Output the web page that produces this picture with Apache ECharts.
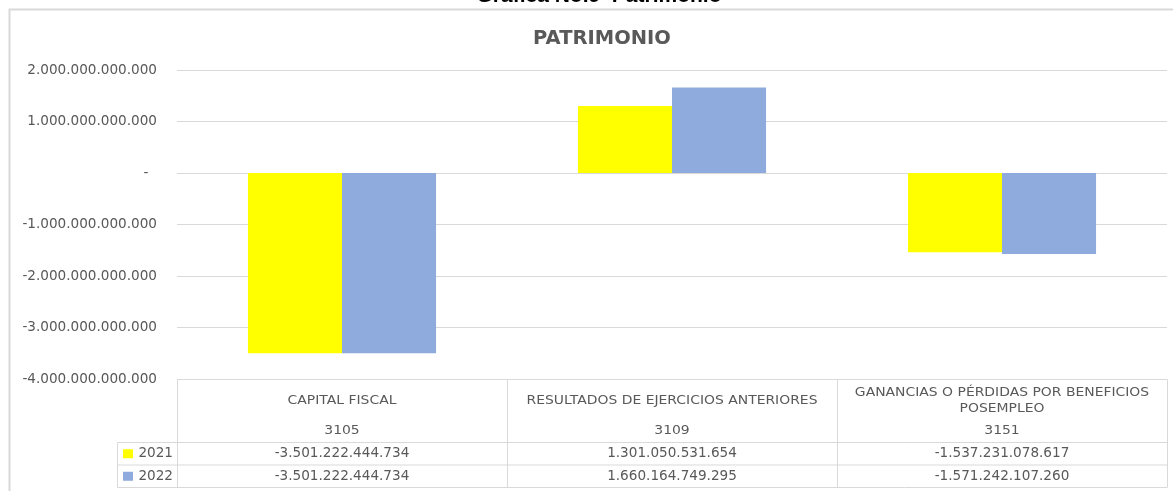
<!DOCTYPE html>
<html><head><meta charset="utf-8">
<script src="https://cdn.jsdelivr.net/npm/echarts@6/dist/echarts.min.js"></script>
<style>html,body{margin:0;padding:0;background:#fff;}#c{width:1173px;height:491px;}</style>
</head><body><div id="c"></div>
<script>
const categories = ['CAPITAL FISCAL', 'RESULTADOS DE EJERCICIOS ANTERIORES', 'GANANCIAS O PÉRDIDAS POR BENEFICIOS\nPOSEMPLEO'];
const codes = ['3105', '3109', '3151'];
const seriesNames = ['2021', '2022'];
const values2021 = [-3501222444734, 1301050531654, -1537231078617];
const values2022 = [-3501222444734, 1660164749295, -1571242107260];
const yTicks = { min: -4000000000000, max: 2000000000000, interval: 1000000000000 };

const colors = ['#FFFF00', '#8FAADC'];
const textColor = '#595959';
const lineColor = '#d9d9d9';
const font = '"DejaVu Sans", Verdana, sans-serif';

function fmt(v) {
  if (v === 0) return '-  ';
  const s = Math.abs(Math.round(v)).toString().replace(/\B(?=(\d{3})+(?!\d))/g, '.');
  return (v < 0 ? '-' : '') + s;
}

const chart = echarts.init(document.getElementById('c'));
const option = {
  animation: false,
  backgroundColor: '#fff',
  grid: { left: 177, right: 6, top: 70, bottom: 112, containLabel: false },
  xAxis: {
    type: 'category', data: categories,
    axisLine: { show: false }, axisTick: { show: false }, axisLabel: { show: false }
  },
  yAxis: {
    type: 'value', min: yTicks.min, max: yTicks.max, interval: yTicks.interval,
    axisLine: { show: false }, axisTick: { show: false },
    splitLine: { lineStyle: { color: lineColor, width: 1 } },
    axisLabel: { formatter: fmt, color: textColor, fontSize: 13.6, fontFamily: font, margin: 20 }
  },
  series: [
    { name: seriesNames[0], type: 'bar', data: values2021, barGap: '0%', barCategoryGap: '43%', itemStyle: { color: colors[0] } },
    { name: seriesNames[1], type: 'bar', data: values2022, barGap: '0%', barCategoryGap: '43%', itemStyle: { color: colors[1] } }
  ]
};
chart.setOption(option);

(function buildTable() {
  const c0 = chart.convertToPixel({ xAxisIndex: 0 }, 0);
  const c1 = chart.convertToPixel({ xAxisIndex: 0 }, 1);
  const band = c1 - c0;
  const tLeft = c0 - band / 2;
  const tRight = tLeft + band * categories.length;
  const tTop = Math.round(chart.convertToPixel({ yAxisIndex: 0 }, yTicks.min)) + 0.5;
  const headerH = 63, rowH = 22.5;
  const legendLeft = 117.5;
  const els = [];
  const ls = { stroke: lineColor, lineWidth: 1 };
  function line(x1, y1, x2, y2) { els.push({ type: 'line', shape: { x1, y1, x2, y2 }, style: ls, silent: true }); }
  const yH = tTop + headerH, yR1 = yH + rowH, yR2 = yR1 + rowH;
  line(tLeft, tTop, tRight, tTop);
  line(legendLeft, yH, tRight, yH);
  line(legendLeft, yR1, tRight, yR1);
  line(legendLeft, yR2, tRight, yR2);
  line(legendLeft, yH, legendLeft, yR2);
  for (let i = 0; i <= categories.length; i++) {
    const x = Math.round(tLeft + band * i) + 0.5;
    line(x, tTop, x, yR2);
  }
  const tstyle = { fill: textColor, font: '12px ' + font, align: 'center', verticalAlign: 'middle' };
  const hs = 1.16;
  categories.forEach((cat, i) => {
    const cx = tLeft + band * (i + 0.5);
    els.push({ type: 'text', x: cx, y: tTop + 21.5, scaleX: hs, style: Object.assign({}, tstyle, { text: cat, lineHeight: 16 }) });
    els.push({ type: 'text', x: cx, y: tTop + 51.5, scaleX: hs, style: Object.assign({}, tstyle, { text: codes[i] }) });
    els.push({ type: 'text', x: cx, y: yH + rowH / 2, style: Object.assign({}, tstyle, { text: fmt(values2021[i]), font: '13.6px ' + font }) });
    els.push({ type: 'text', x: cx, y: yR1 + rowH / 2, style: Object.assign({}, tstyle, { text: fmt(values2022[i]), font: '13.6px ' + font }) });
  });
  seriesNames.forEach((n, k) => {
    const cy = yH + rowH * k + rowH / 2;
    els.push({ type: 'rect', shape: { x: 123, y: cy - 4.5, width: 10, height: 9 }, style: { fill: colors[k] }, silent: true });
    els.push({ type: 'text', x: 173, y: cy, style: { text: n, fill: textColor, font: '13.6px ' + font, align: 'right', verticalAlign: 'middle' } });
  });
  els.push({ type: 'rect', shape: { x: 9.5, y: 9.5, width: 1200, height: 600 }, style: { fill: null, stroke: lineColor, lineWidth: 2 }, silent: true, z: -1 });
  els.push({ type: 'text', x: 599, y: 7, style: { text: 'Gráfica No.9  Patrimonio', fill: '#000', font: 'bold 21px "Liberation Sans", Arial, sans-serif', align: 'center', verticalAlign: 'bottom' } });
  els.push({ type: 'text', x: 602, y: 39, style: { text: 'PATRIMONIO', fill: textColor, font: 'bold 19.5px ' + font, align: 'center', verticalAlign: 'middle' } });
  chart.setOption({ graphic: { elements: els } });
})();
</script>
</body></html>
